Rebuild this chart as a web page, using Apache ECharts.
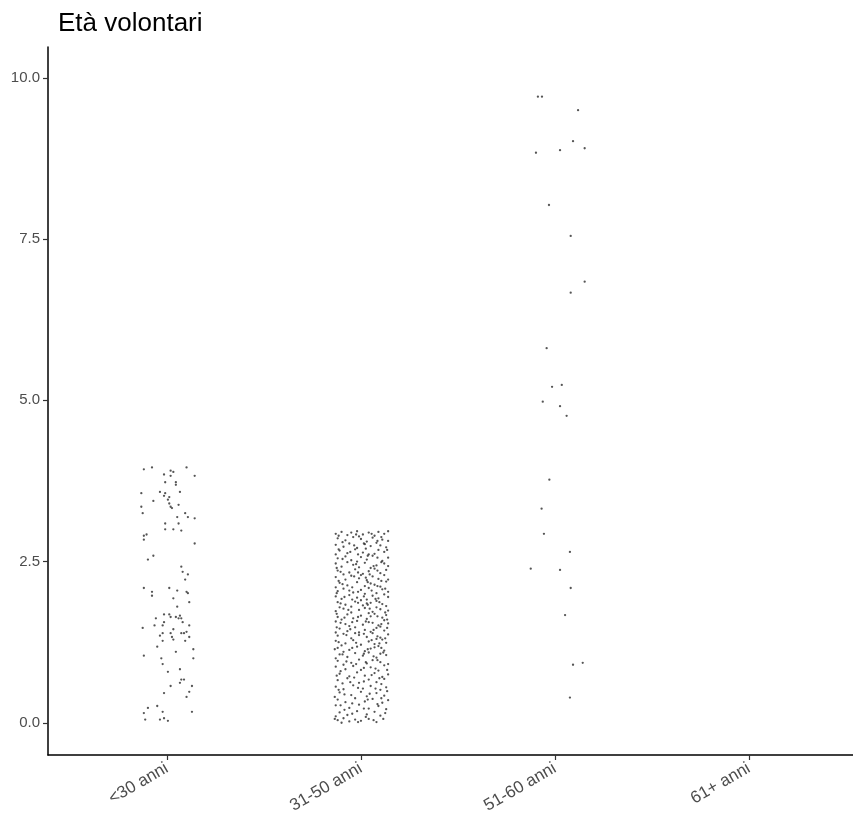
<!DOCTYPE html>
<html>
<head>
<meta charset="utf-8">
<script src="https://cdn.jsdelivr.net/npm/echarts@6/dist/echarts.min.js"></script>
<style>html,body{margin:0;padding:0;background:#fff}#c{width:853px;height:822px}</style>
</head>
<body>
<div id="c"></div>
<script>
const categories = ['<30 anni', '31-50 anni', '51-60 anni', '61+ anni'];
const yTicks = [0, 2.5, 5, 7.5, 10];
const titleText = 'Età volontari';

// [horizontal jitter offset (category units), value]
const group30 = [
[-0.119,3.93],[-0.077,3.96],[0.101,3.96],[0.019,3.91],[0.033,3.89],[-0.015,3.85],[0.019,3.83],[0.143,3.83],
[-0.009,3.73],[0.046,3.73],[0.046,3.69],[-0.132,3.56],[-0.036,3.58],[-0.009,3.56],[0.067,3.58],[-0.015,3.52],
[0.012,3.50],[0.005,3.46],[-0.070,3.44],[0.012,3.40],[0.060,3.38],[-0.132,3.35],[0.019,3.35],[0.026,3.33],
[-0.125,3.25],[0.094,3.25],[0.053,3.19],[0.108,3.19],[0.143,3.17],[-0.009,3.09],[0.060,3.09],[-0.009,3.00],
[0.033,3.00],[0.074,2.98],[-0.119,2.90],[-0.105,2.92],[-0.119,2.84],[0.143,2.78],[-0.070,2.59],[-0.098,2.53],
[0.074,2.42],[0.081,2.34],[0.108,2.30],[0.094,2.22],[-0.119,2.09],[0.012,2.09],[-0.077,2.03],[0.053,2.05],
[0.101,2.03],[0.108,2.01],[-0.077,1.97],[0.033,1.93],[0.115,1.87],[0.053,1.80],[-0.015,1.68],[0.012,1.68],
[0.019,1.64],[-0.057,1.62],[0.046,1.64],[0.060,1.62],[0.074,1.62],[0.067,1.66],[-0.015,1.56],[0.081,1.56],
[-0.064,1.51],[-0.022,1.51],[0.115,1.51],[-0.125,1.47],[0.033,1.45],[-0.022,1.39],[0.019,1.39],[0.074,1.39],
[0.088,1.39],[0.101,1.41],[-0.036,1.35],[0.026,1.33],[0.115,1.33],[0.033,1.29],[-0.022,1.27],[0.094,1.27],
[-0.050,1.18],[0.136,1.14],[0.046,1.10],[-0.119,1.04],[-0.029,1.00],[0.136,1.00],[-0.022,0.91],[0.005,0.79],
[0.067,0.83],[0.074,0.67],[0.088,0.67],[0.067,0.62],[0.019,0.57],[0.129,0.57],[-0.015,0.46],[0.115,0.48],
[0.101,0.40],[-0.098,0.23],[-0.050,0.26],[-0.022,0.17],[0.129,0.17],[-0.119,0.15],[-0.112,0.05],[-0.036,0.05],
[-0.015,0.07],[0.005,0.03]
];

const group31_50 = [
[-0.13,2.93],[-0.10,2.96],[-0.07,2.91],[-0.05,2.95],[-0.02,2.97],[0.01,2.92],[0.04,2.95],[0.07,2.90],[0.09,2.96],[0.12,2.93],[0.14,2.97],
[-0.12,2.86],[-0.08,2.83],[-0.04,2.88],[0.00,2.85],[0.03,2.81],[0.06,2.87],[0.11,2.84],[0.14,2.82],[-0.01,2.89],
[-0.13,2.76],[-0.09,2.73],[-0.06,2.78],[-0.02,2.71],[0.02,2.77],[0.05,2.74],[0.08,2.79],[0.13,2.72],[0.10,2.75],
[-0.11,2.67],[-0.07,2.63],[-0.03,2.69],[0.01,2.64],[0.04,2.61],[0.09,2.68],[0.12,2.65],[-0.13,2.61],[0.07,2.62],
[-0.12,2.55],[-0.08,2.58],[-0.05,2.52],[0.00,2.57],[0.03,2.53],[0.06,2.59],[0.11,2.51],[0.14,2.56],[-0.02,2.50],
[-0.13,2.47],[-0.10,2.42],[-0.04,2.45],[-0.01,2.41],[0.02,2.48],[0.08,2.44],[0.12,2.47],[0.05,2.40],[0.14,2.43],[-0.07,2.49],
[-0.12,2.36],[-0.06,2.33],[-0.03,2.38],[0.01,2.31],[0.04,2.35],[0.07,2.39],[0.10,2.32],[0.13,2.37],[-0.09,2.30],
[-0.13,2.26],[-0.08,2.22],[-0.05,2.28],[-0.01,2.24],[0.03,2.21],[0.06,2.27],[0.09,2.23],[0.12,2.29],[0.14,2.22],[0.00,2.29],
[-0.11,2.17],[-0.07,2.13],[-0.02,2.18],[0.02,2.12],[0.05,2.16],[0.10,2.11],[0.13,2.19],[-0.13,2.10],[0.07,2.14],
[-0.12,2.04],[-0.09,2.08],[-0.04,2.02],[0.00,2.06],[0.04,2.09],[0.08,2.01],[0.11,2.07],[0.14,2.03],[-0.06,2.05],[0.02,2.00],
[-0.13,1.96],[-0.10,1.92],[-0.06,1.98],[-0.02,1.94],[0.03,1.91],[0.06,1.97],[0.09,1.93],[0.12,1.99],[0.00,1.90],[0.14,1.95],
[-0.12,1.87],[-0.08,1.83],[-0.03,1.88],[0.01,1.82],[0.05,1.86],[0.08,1.89],[0.11,1.84],[0.13,1.81],[-0.05,1.80],[0.03,1.85],
[-0.13,1.73],[-0.09,1.77],[-0.05,1.71],[-0.01,1.75],[0.02,1.78],[0.06,1.72],[0.10,1.76],[0.14,1.74],[-0.11,1.79],[0.04,1.70],[0.08,1.79],
[-0.12,1.64],[-0.07,1.68],[-0.04,1.62],[0.00,1.66],[0.03,1.61],[0.07,1.69],[0.11,1.63],[0.13,1.67],[-0.10,1.60],[0.05,1.65],
[-0.13,1.57],[-0.08,1.53],[-0.02,1.58],[0.01,1.52],[0.04,1.56],[0.09,1.51],[0.12,1.59],[0.14,1.54],[-0.06,1.50],[0.06,1.55],
[-0.11,1.46],[-0.07,1.42],[-0.03,1.48],[0.02,1.44],[0.05,1.41],[0.08,1.47],[0.12,1.43],[-0.13,1.40],[0.10,1.49],[-0.01,1.40],
[-0.12,1.35],[-0.09,1.38],[-0.05,1.31],[-0.01,1.36],[0.03,1.33],[0.06,1.39],[0.10,1.32],[0.14,1.37],[0.08,1.30],[-0.03,1.39],
[-0.13,1.27],[-0.08,1.23],[-0.04,1.28],[0.00,1.21],[0.04,1.26],[0.07,1.22],[0.11,1.29],[0.13,1.24],[-0.10,1.20],
[-0.12,1.16],[-0.06,1.13],[-0.02,1.18],[0.02,1.11],[0.05,1.15],[0.09,1.19],[0.12,1.12],[-0.09,1.10],[0.07,1.17],
[-0.11,1.06],[-0.07,1.02],[-0.03,1.08],[0.01,1.04],[0.04,1.09],[0.08,1.01],[0.13,1.05],[-0.13,1.00],[0.10,1.07],
[-0.12,0.96],[-0.05,0.93],[-0.01,0.98],[0.03,0.92],[0.06,0.97],[0.10,0.94],[0.14,0.91],[-0.09,0.90],
[-0.13,0.87],[-0.08,0.83],[-0.04,0.88],[0.00,0.82],[0.05,0.86],[0.09,0.81],[0.12,0.89],
[-0.11,0.76],[-0.06,0.72],[-0.02,0.78],[0.02,0.73],[0.07,0.77],[0.11,0.71],[0.14,0.75],
[-0.12,0.66],[-0.07,0.69],[-0.01,0.62],[0.04,0.67],[0.08,0.63],[0.12,0.68],
[-0.13,0.56],[-0.09,0.52],[-0.04,0.58],[0.01,0.53],[0.05,0.57],[0.10,0.51],[0.13,0.55],
[-0.11,0.47],[-0.05,0.43],[0.00,0.48],[0.03,0.41],[0.08,0.46],[0.12,0.42],
[-0.12,0.36],[-0.08,0.32],[-0.03,0.38],[0.02,0.33],[0.06,0.37],[0.11,0.31],[0.14,0.35],
[-0.13,0.27],[-0.06,0.23],[-0.01,0.28],[0.04,0.22],[0.09,0.26],[0.13,0.21],
[-0.11,0.16],[-0.07,0.12],[-0.02,0.18],[0.03,0.13],[0.07,0.17],[0.10,0.11],[-0.13,0.10],
[-0.12,0.04],[-0.09,0.07],[-0.06,0.02],[-0.03,0.05],[0.00,0.03],[0.04,0.06],[0.08,0.01],[-0.10,0.00],
[-0.115,2.90],[-0.025,2.92],[0.055,2.93],[0.105,2.88],[-0.095,2.80],[0.015,2.78],[0.085,2.82],[-0.035,2.75],
[-0.115,2.69],[0.025,2.70],[0.135,2.68],[-0.055,2.65],[-0.095,2.54],[0.035,2.59],[0.085,2.56],[-0.015,2.61],
[-0.125,2.40],[-0.025,2.46],[0.065,2.43],[0.105,2.49],[-0.105,2.34],[0.045,2.30],[0.085,2.36],[-0.015,2.33],
[-0.115,2.20],[-0.035,2.27],[0.025,2.25],[0.105,2.20],[-0.095,2.15],[0.035,2.18],[0.085,2.12],[-0.045,2.10],
[-0.125,2.01],[-0.015,2.03],[0.055,2.05],[0.125,2.08],[-0.085,1.95],[0.015,1.96],[0.075,1.92],[-0.045,1.91],
[-0.105,1.85],[0.035,1.83],[0.095,1.87],[-0.015,1.86],[-0.065,1.75],[0.045,1.77],[0.125,1.71],[-0.125,1.69],
[-0.085,1.63],[-0.015,1.64],[0.085,1.65],[0.135,1.60],[-0.105,1.55],[0.025,1.57],[0.105,1.53],[-0.045,1.56],
[-0.125,1.48],[-0.055,1.45],[0.065,1.44],[0.135,1.47],[-0.075,1.36],[0.015,1.38],[0.085,1.34],[0.125,1.31],
[-0.115,1.25],[-0.025,1.24],[0.055,1.28],[0.095,1.23],[-0.135,1.14],[-0.045,1.16],[0.035,1.14],[0.105,1.16],
[-0.095,1.06],[0.015,1.07],[0.065,1.03],[0.115,1.09],[-0.075,0.95],[0.025,0.94],[0.085,0.97],[-0.025,0.91],
[-0.105,0.80],[0.015,0.85],[0.075,0.84],[0.135,0.82],[-0.125,0.73],[-0.035,0.70],[0.055,0.74],[0.095,0.69],
[-0.095,0.61],[0.015,0.64],[0.105,0.60],[-0.055,0.63],[-0.115,0.51],[-0.015,0.54],[0.075,0.53],[0.135,0.49],
[-0.085,0.44],[0.045,0.45],[0.105,0.38],[-0.135,0.40],[-0.045,0.30],[0.035,0.36],[0.085,0.29],[-0.105,0.27],
[-0.085,0.20],[0.015,0.22],[0.125,0.15],[-0.045,0.14],[-0.135,0.06],[0.025,0.09],[0.065,0.04],[0.115,0.06],[-0.015,0.01]
];

const group51_60 = [
[-0.088,9.71],[-0.067,9.71],[0.119,9.50],[0.093,9.02],[0.153,8.91],[0.026,8.88],[-0.098,8.84],[-0.031,8.03],
[0.081,7.55],[0.153,6.84],[0.081,6.67],[-0.043,5.81],[0.035,5.24],[-0.015,5.21],[-0.063,4.98],[0.026,4.91],
[0.060,4.76],[-0.029,3.77],[-0.069,3.32],[-0.057,2.93],[0.077,2.65],[-0.125,2.39],[0.026,2.37],[0.081,2.09],
[0.052,1.67],[0.143,0.93],[0.093,0.90],[0.077,0.39]
];

const group61 = [];

const groups = [group30, group31_50, group51_60, group61];
const points = [];
groups.forEach((g, i) => g.forEach(p => points.push([i + p[0], p[1]])));

const chart = echarts.init(document.getElementById('c'), null, {renderer: 'canvas'});
const font = 'Liberation Sans, Arial, sans-serif';
chart.setOption({
  animation: false,
  backgroundColor: '#ffffff',
  title: {
    text: titleText, left: 53, top: 6,
    textStyle: {fontFamily: font, fontSize: 26, fontWeight: 'normal', color: '#000'}
  },
  grid: {left: 48, right: 0, top: 47, bottom: 67, containLabel: false},
  xAxis: {
    type: 'value', min: -0.613, max: 3.536,
    splitLine: {show: false},
    axisLine: {show: true, onZero: false, lineStyle: {color: '#000', width: 1.5}},
    axisTick: {show: true, customValues: [0, 1, 2, 3], length: 5, lineStyle: {color: '#333', width: 1.2}},
    axisLabel: {
      customValues: [0, 1, 2, 3], rotate: 30, margin: 12,
      fontFamily: font, fontSize: 17, color: '#4d4d4d',
      formatter: v => categories[Math.round(v)] || ''
    }
  },
  yAxis: {
    type: 'value', min: -0.5, max: 10.48,
    splitLine: {show: false},
    axisLine: {show: true, onZero: false, lineStyle: {color: '#000', width: 1.5}},
    axisTick: {show: true, customValues: yTicks, length: 5, lineStyle: {color: '#333', width: 1.2}},
    axisLabel: {
      customValues: yTicks, margin: 8,
      fontFamily: font, fontSize: 15, color: '#4d4d4d',
      formatter: v => Number(v).toFixed(1)
    }
  },
  series: [{
    type: 'scatter', data: points, symbol: 'circle', symbolSize: 2.3,
    itemStyle: {color: '#2a2a2a'}, silent: true
  }]
});
</script>
</body>
</html>
